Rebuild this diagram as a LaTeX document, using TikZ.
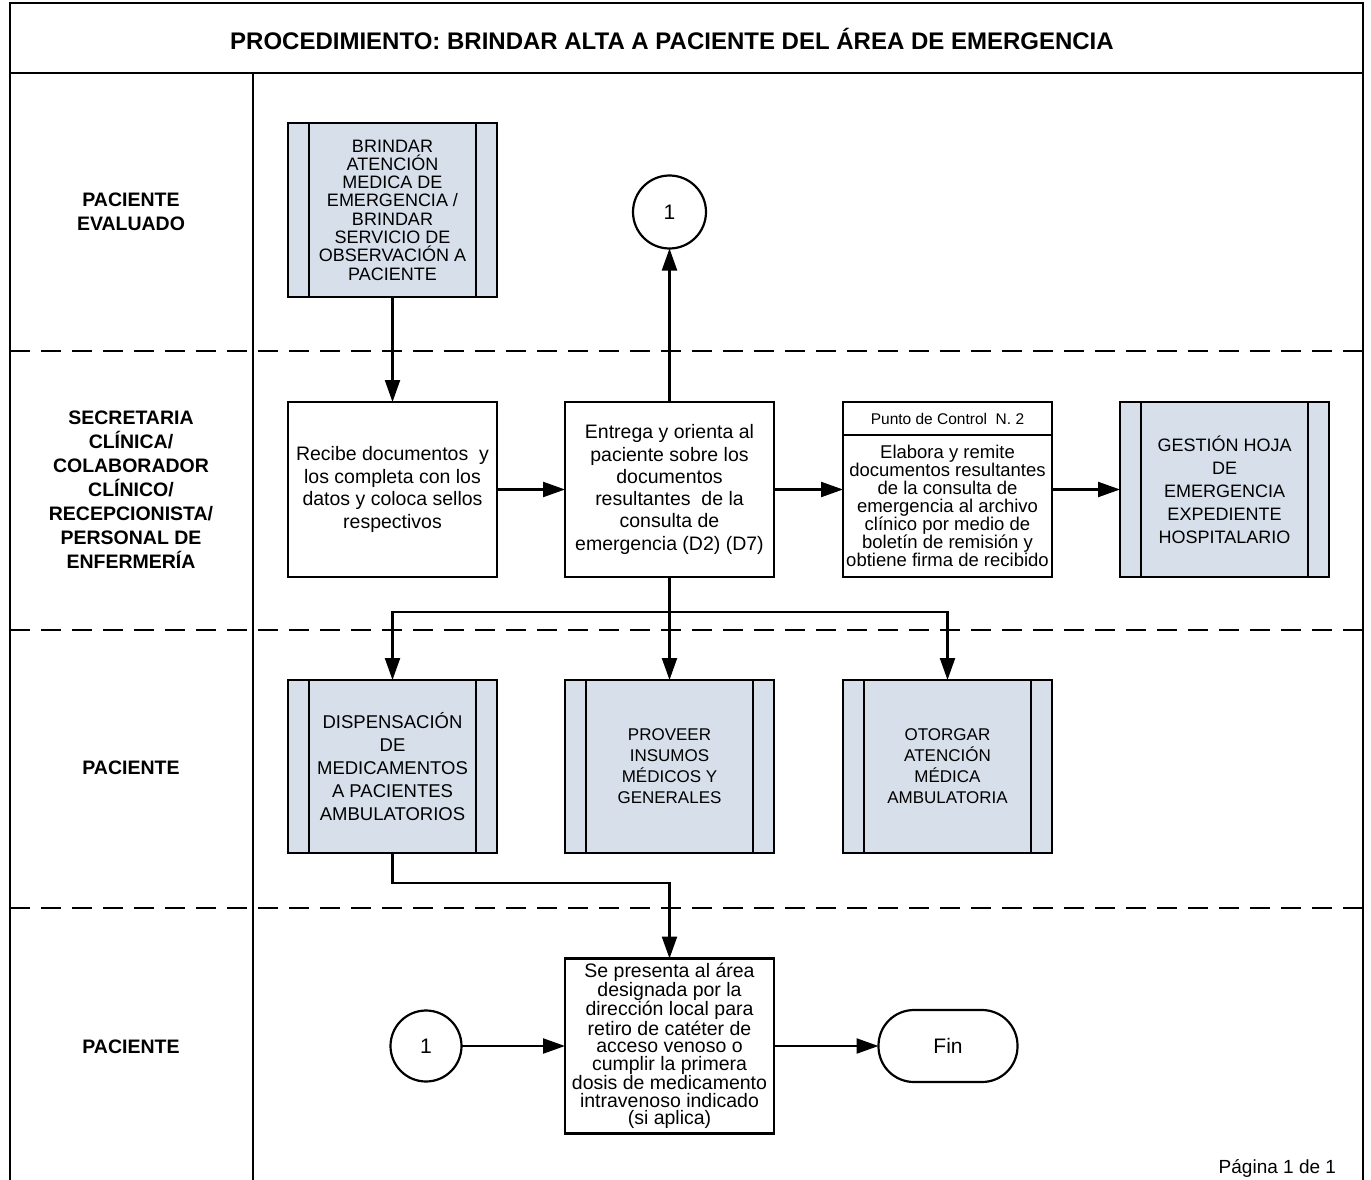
\documentclass[tikz,border=0pt]{standalone}
\usepackage{fontspec}
\setmainfont{Liberation Sans}
\usetikzlibrary{arrows.meta,calc}
\definecolor{subfill}{RGB}{214,223,234}
\begin{document}
\begin{tikzpicture}[x=1pt,y=-1pt,
  every node/.style={inner sep=0pt, outer sep=0pt},
  lw/.style={line width=2.2pt},
  dashsep/.style={line width=2.2pt, dash pattern=on 20pt off 11pt},
  proc/.style={draw, line width=2.2pt, minimum width=209pt, minimum height=175pt, align=center, fill=white},
  subp/.style={draw, line width=2.2pt, minimum width=209pt, minimum height=174pt, align=center, fill=subfill},
  arr/.style={line width=2.2pt, -{Triangle[length=22pt,width=15pt]}},
  lanelbl/.style={align=center, font=\bfseries\fontsize{19.5}{24}\selectfont},
  conn/.style={draw, circle, line width=2.2pt, minimum size=73pt, fill=white, font=\fontsize{21}{24}\selectfont}
]
\useasboundingbox (0,0) rectangle (1371,1180);

% frame
\draw[lw] (10,1180) -- (10,3) -- (1363,3) -- (1363,1180);
\draw[lw] (10,73) -- (1363,73);
\draw[lw] (253,73) -- (253,1180);
\draw[dashsep] (10,351) -- (1363,351);
\draw[dashsep] (10,630) -- (1363,630);
\draw[dashsep] (10,908) -- (1363,908);

\node[font=\bfseries\fontsize{24}{28}\selectfont] (title) at (672,39) {PROCEDIMIENTO: BRINDAR ALTA A PACIENTE DEL ÁREA DE EMERGENCIA};

% lane labels
\node[lanelbl] (l1) at (131,212) {PACIENTE\\EVALUADO};
\node[lanelbl] (l2) at (131,490) {SECRETARIA\\CLÍNICA/\\COLABORADOR\\CLÍNICO/\\RECEPCIONISTA/\\PERSONAL DE\\ENFERMERÍA};
\node[lanelbl] (l3) at (131,768) {PACIENTE};
\node[lanelbl] (l4) at (131,1047) {PACIENTE};

% lane 1
\node[subp, font=\fontsize{18}{18.3}\selectfont] (brindar) at (392.5,210) {BRINDAR\\ATENCIÓN\\MEDICA DE\\EMERGENCIA /\\BRINDAR\\SERVICIO DE\\OBSERVACIÓN A\\PACIENTE};
\node[conn] (c1) at (669.5,212) {1};

% lane 2
\node[proc, font=\fontsize{19.5}{22.5}\selectfont] (recibe) at (392.5,489.5) {Recibe documentos \ y\\los completa con los\\datos y coloca sellos\\respectivos};
\node[proc, font=\fontsize{19.5}{22.3}\selectfont] (entrega) at (669.5,489.5) {Entrega y orienta al\\paciente sobre los\\documentos\\resultantes \ de la\\consulta de\\emergencia (D2) (D7)};
\node[proc] (punto) at (947.5,489.5) {};
\node[font=\fontsize{15.5}{18}\selectfont] (puntohdr) at (947.5,419) {Punto de Control \ N. 2};
\node[align=center, font=\fontsize{18.5}{18}\selectfont] (puntotxt) at (947.5,506) {Elabora y remite\\documentos resultantes\\de la consulta de\\emergencia al archivo\\clínico por medio de\\boletín de remisión y\\obtiene firma de recibido};
\node[subp, minimum height=175pt, font=\fontsize{18}{23}\selectfont] (gestion) at (1224.5,489.5) {GESTIÓN HOJA\\DE\\EMERGENCIA\\EXPEDIENTE\\HOSPITALARIO};

% lane 3
\node[subp, minimum height=173pt, font=\fontsize{18.5}{23}\selectfont] (dispensa) at (392.5,766.5) {DISPENSACIÓN\\DE\\MEDICAMENTOS\\A PACIENTES\\AMBULATORIOS};
\node[subp, minimum height=173pt, font=\fontsize{17}{21}\selectfont] (proveer) at (669.5,766.5) {PROVEER\\INSUMOS\\MÉDICOS Y\\GENERALES};
\node[subp, minimum height=173pt, font=\fontsize{17}{21}\selectfont] (otorgar) at (947.5,766.5) {OTORGAR\\ATENCIÓN\\MÉDICA\\AMBULATORIA};

% lane 4
\node[conn, minimum size=71pt] (c2) at (426,1046) {1};
\node[proc, font=\fontsize{19.5}{17.6}\selectfont] (presenta) at (669.5,1046) {Se presenta al área\\designada por la\\dirección local para\\retiro de catéter de\\acceso venoso o\\cumplir la primera\\dosis de medicamento\\intravenoso indicado\\(si aplica)};
\node[draw, line width=2.2pt, rounded corners=35.5pt, minimum width=139pt, minimum height=72pt, font=\fontsize{21}{24}\selectfont] (fin) at (948,1046) {Fin};

\node[anchor=east, font=\fontsize{19}{22}\selectfont] (pagina) at (1336,1168) {Página 1 de 1};

% subprocess inner strips
\foreach \n in {brindar,gestion,dispensa,proveer,otorgar}{
  \draw[lw] ([xshift=21pt]\n.north west) -- ([xshift=21pt]\n.south west);
  \draw[lw] ([xshift=-21pt]\n.north east) -- ([xshift=-21pt]\n.south east);
}
% punto header line
\draw[lw] ([yshift=-33pt]punto.north west) -- ([yshift=-33pt]punto.north east);

% connectors
\coordinate (split) at (669.5,612);
\coordinate (join) at (669.5,883);
\draw[arr] (brindar) -- (recibe);
\draw[arr] (recibe) -- (entrega);
\draw[arr] (entrega) -- (punto);
\draw[arr] (punto) -- (gestion);
\draw[arr] (entrega) -- (c1);
\draw[lw] (entrega.south) -- (split);
\draw[arr] (split) -| (dispensa.north);
\draw[arr] (split) -- (proveer.north);
\draw[arr] (split) -| (otorgar.north);
\draw[arr] (dispensa.south) |- (join) -- (presenta.north);
\draw[arr] (c2) -- (presenta);
\draw[arr] (presenta) -- (fin);
\end{tikzpicture}
\end{document}
